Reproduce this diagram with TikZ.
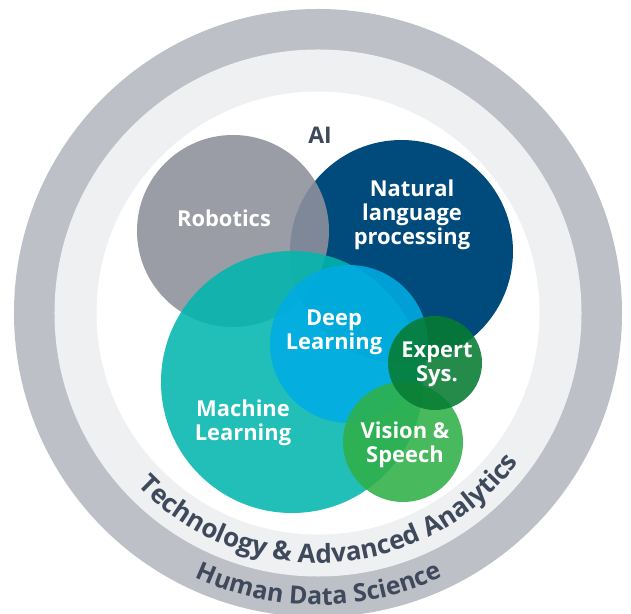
\documentclass[tikz,border=0pt]{standalone}
\usepackage{fontspec}
\setmainfont{Open Sans}
\usetikzlibrary{decorations.text}

\definecolor{ringgray}{RGB}{190,192,199}
\definecolor{ringlight}{RGB}{239,240,242}
\definecolor{slate}{RGB}{62,73,92}
\definecolor{robogray}{RGB}{142,144,156}
\definecolor{nlpblue}{RGB}{0,74,124}
\definecolor{mlteal}{RGB}{0,182,174}
\definecolor{dlblue}{RGB}{0,172,228}
\definecolor{vsgreen}{RGB}{48,176,72}
\definecolor{esgreen}{RGB}{7,124,50}

\begin{document}
\begin{tikzpicture}[x=1bp,y=1bp,
  disc/.style={circle, inner sep=0pt, draw=none},
  lbl/.style={text=white, font=\fontsize{22}{24}\selectfont\bfseries, align=center, inner sep=0pt},
  ringtext/.style 2 args={decorate, decoration={text along path, text align=center,
      text={|\fontsize{#1}{#1}\selectfont\bfseries\color{slate}|#2}}}
  ]
\clip (-318,-301) rectangle (313,313);

% concentric background rings
\node[disc, minimum size=608bp, fill=ringgray] (outer) at (0,0) {};
\node[disc, minimum size=527bp, fill=ringlight] (middle) at (0,0) {};
\node[disc, minimum size=443bp, fill=white] (inner) at (0,0) {};

% overlapping field discs
\node[disc, minimum size=223bp, fill=nlpblue] (nlp) at (83.5,61.5) {};
\node[disc, minimum size=192bp, fill=robogray, fill opacity=0.89] (robotics) at (-85,82) {};
\node[disc, minimum size=262bp, fill=mlteal, fill opacity=0.87] (ml) at (-26,-69) {};
\node[disc, minimum size=158bp, fill=dlblue, fill opacity=0.88] (dl) at (31,-31) {};
\node[disc, minimum size=120bp, fill=vsgreen, fill opacity=0.88] (vs) at (85,-129) {};
\node[disc, minimum size=94bp, fill=esgreen, fill opacity=0.88] (es) at (117,-50) {};

% labels
\node[text=slate, font=\fontsize{23}{23}\selectfont\bfseries, inner sep=0pt] (ai) at (2,178) {AI};
\node[lbl] (roboticsL) at (-94,94.5) {Robotics};
\node[lbl] (nlpL) at (94,98) {Natural\\language\\processing};
\node[lbl] (dlL) at (16,-19.5) {Deep\\Learning};
\node[lbl] (mlL) at (-75,-109.5) {Machine\\Learning};
\node[lbl] (esL) at (119,-51) {Expert\\Sys.};
\node[lbl] (vsL) at (87,-132) {Vision \&\\Speech};

% curved ring captions
\path[ringtext={26.2}{Technology {\&} Advanced Analytics}]
  (213.6:250) arc[start angle=213.6, end angle=333.6, radius=250];
\path[ringtext={25}{Human Data Science}]
  (210.2:292) arc[start angle=210.2, end angle=330.2, radius=292];
\end{tikzpicture}
\end{document}
